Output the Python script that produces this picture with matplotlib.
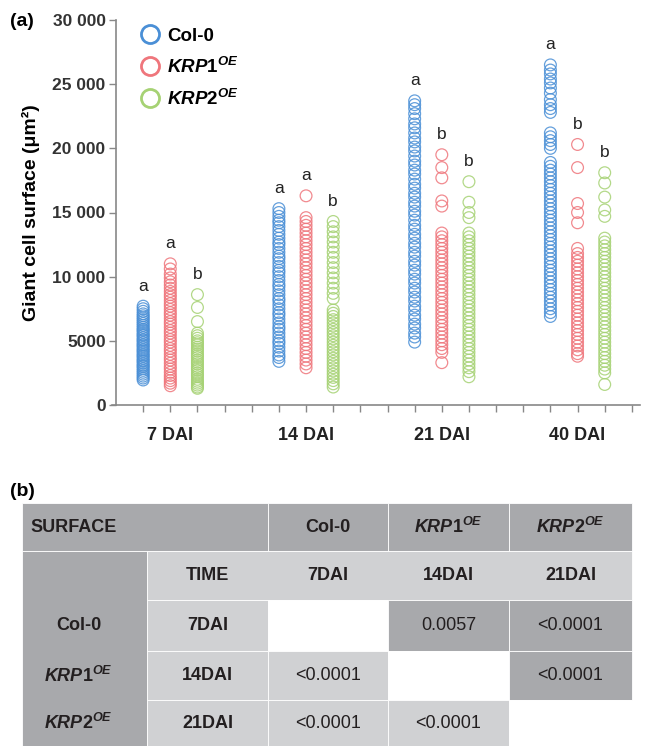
import matplotlib.pyplot as plt
from matplotlib.lines import Line2D
from matplotlib.patches import Rectangle

plt.rcParams['font.family'] = ['Liberation Sans', 'DejaVu Sans']
plt.rcParams['mathtext.fontset'] = 'custom'
plt.rcParams['mathtext.it'] = 'Liberation Sans:bold:italic'
plt.rcParams['mathtext.rm'] = 'Liberation Sans:bold'
plt.rcParams['mathtext.bf'] = 'Liberation Sans:bold'

# (a) giant cell surfaces
days = ['7 DAI', '14 DAI', '21 DAI', '40 DAI']
genotypes = ['Col-0', r'$\mathit{KRP1}^{\mathit{OE}}$', r'$\mathit{KRP2}^{\mathit{OE}}$']
colors = ['#4a8fd6', '#ef767c', '#a6d274']

col0 = [
    [7700, 7500, 7300, 7100, 6950, 6800, 6650, 6500, 6350, 6200, 6050, 5900, 5800, 5650, 5500, 5400,
     5250, 5100, 5000, 4850, 4700, 4600, 4450, 4300, 4200, 4050, 3900, 3800, 3650, 3500, 3400, 3250,
     3100, 3000, 2850, 2700, 2550, 2400, 2250, 2100, 1950],
    [15300, 15000, 14700, 14400, 14200, 13900, 13600, 13300, 13000, 12700, 12500, 12200, 11900, 11600,
     11400, 11100, 10800, 10500, 10300, 10000, 9700, 9400, 9200, 8900, 8600, 8300, 8100, 7800, 7500,
     7200, 7000, 6700, 6400, 6100, 5900, 5600, 5300, 5000, 4800, 4500, 4200, 3900, 3700, 3400],
    [23700, 23400, 23100, 22700, 22300, 21900, 21600, 21200, 20800, 20500, 20100, 19800, 19400, 19000,
     18700, 18300, 18000, 17600, 17200, 16900, 16500, 16200, 15800, 15500, 15100, 14800, 14400, 14000,
     13700, 13300, 13000, 12600, 12300, 11900, 11600, 11200, 10900, 10500, 10200, 9800, 9500, 9100,
     8800, 8400, 8100, 7700, 7400, 7000, 6700, 6300, 6000, 5600, 5300, 4900],
    [26500, 26100, 25800, 25400, 25100, 24700, 24300, 23800, 23400, 23100, 22800, 21200, 20900, 20600,
     20300, 20000, 18900, 18600, 18300, 18000, 17700, 17400, 17100, 16800, 16500, 16200, 15900, 15600,
     15300, 15000, 14700, 14400, 14100, 13800, 13500, 13200, 12900, 12600, 12300, 12000, 11700, 11400,
     11100, 10800, 10500, 10200, 9900, 9600, 9300, 9000, 8700, 8400, 8100, 7800, 7500, 7200, 6900],
]
krp1 = [
    [11000, 10600, 10200, 9900, 9600, 9350, 9100, 8850, 8600, 8400, 8150, 7900, 7700, 7450, 7200, 7000,
     6750, 6500, 6300, 6050, 5800, 5600, 5350, 5100, 4900, 4650, 4400, 4200, 3950, 3700, 3500, 3250,
     3000, 2800, 2550, 2300, 2100, 1900, 1700, 1500],
    [16300, 14600, 14300, 14000, 13700, 13400, 13100, 12800, 12500, 12200, 11900, 11600, 11300, 11000,
     10700, 10400, 10100, 9800, 9500, 9200, 8900, 8600, 8300, 8000, 7700, 7400, 7100, 6800, 6500, 6200,
     5900, 5600, 5300, 5000, 4700, 4400, 4100, 3800, 3500, 3200, 2900],
    [19500, 18500, 17700, 15900, 15500, 13400, 13100, 12800, 12500, 12200, 11900, 11600, 11300, 11000,
     10700, 10400, 10100, 9800, 9500, 9200, 8900, 8600, 8300, 8000, 7700, 7400, 7100, 6800, 6500, 6200,
     5900, 5600, 5300, 5000, 4700, 4400, 4100, 3300],
    [20300, 18500, 15700, 15000, 14200, 12200, 11800, 11500, 11200, 10900, 10600, 10300, 10000, 9700,
     9400, 9100, 8800, 8500, 8200, 7900, 7600, 7300, 7000, 6700, 6400, 6100, 5800, 5500, 5200, 4900,
     4600, 4300, 4000, 3800],
]
krp2 = [
    [8600, 7600, 6500, 5600, 5400, 5200, 5000, 4850, 4700, 4500, 4350, 4200, 4000, 3850, 3700, 3500,
     3350, 3200, 3000, 2850, 2700, 2500, 2350, 2200, 2000, 1850, 1700, 1550, 1400, 1300],
    [14300, 13900, 13500, 13100, 12700, 12300, 11900, 11500, 11100, 10700, 10300, 9900, 9500, 9100,
     8700, 8300, 7400, 7150, 6900, 6650, 6400, 6150, 5900, 5650, 5400, 5150, 4900, 4650, 4400, 4150,
     3900, 3650, 3400, 3150, 2900, 2650, 2400, 2150, 1900, 1650, 1400],
    [17400, 15800, 15000, 14600, 13400, 13100, 12800, 12500, 12200, 11900, 11600, 11300, 11000, 10700,
     10400, 10100, 9800, 9500, 9200, 8900, 8600, 8300, 8000, 7700, 7400, 7100, 6800, 6500, 6200, 5900,
     5600, 5300, 5000, 4700, 4400, 4100, 3800, 3500, 3200, 2900, 2600, 2200],
    [18100, 17300, 16200, 15200, 14700, 13000, 12700, 12400, 12100, 11800, 11500, 11200, 10900, 10600,
     10300, 10000, 9700, 9400, 9100, 8800, 8500, 8200, 7900, 7600, 7300, 7000, 6700, 6400, 6100, 5800,
     5500, 5200, 4900, 4600, 4300, 4000, 3700, 3400, 3100, 2800, 2500, 1600],
]
letters = [['a', 'a', 'b'], ['a', 'a', 'b'], ['a', 'b', 'b'], ['a', 'b', 'b']]

# (b) p-values table
table_cols = ['Col-0', r'$\mathit{KRP1}^{\mathit{OE}}$', r'$\mathit{KRP2}^{\mathit{OE}}$']
table_times = ['7DAI', '14DAI', '21DAI']
pvalues = [
    [None, '0.0057', '<0.0001'],
    ['<0.0001', None, '<0.0001'],
    ['<0.0001', '<0.0001', None],
]

W, H = 657, 746
fig = plt.figure(figsize=(W / 100, H / 100), dpi=100)
ax = fig.add_axes([116 / W, 1 - 405 / H, (640 - 116) / W, (405 - 20) / H])

for g, series in enumerate([col0, krp1, krp2]):
    for d in range(len(days)):
        x = 5 * d + g
        vals = series[d]
        ax.scatter([x] * len(vals), vals, s=72, facecolors='none', edgecolors=colors[g],
                   linewidths=0.9, alpha=0.85, zorder=3)
        ax.annotate(letters[d][g], (x, max(vals)), xytext=(0, 9), textcoords='offset points',
                    ha='center', va='bottom', fontsize=12.5, color='#222222')

ax.set_xlim(-1, 18.3)
ax.set_ylim(0, 30000)
ax.set_yticks(range(0, 30001, 5000))
ax.set_yticklabels(['0', '5000', '10 000', '15 000', '20 000', '25 000', '30 000'])
ax.set_xticks([5 * d + 1 for d in range(len(days))])
ax.set_xticklabels(days)
ax.set_xticks(range(0, 19), minor=True)
ax.tick_params(axis='y', direction='out', length=5, width=1, color='#888888', pad=2.5,
               labelsize=12.5, labelcolor='#333333')
ax.tick_params(axis='x', which='both', direction='out', length=5, width=1, color='#888888')
ax.tick_params(axis='x', which='major', pad=11, labelsize=13, labelcolor='#222222')
for lab in ax.get_yticklabels() + ax.get_xticklabels():
    lab.set_fontweight('bold')
for side in ['top', 'right']:
    ax.spines[side].set_visible(False)
for side in ['left', 'bottom']:
    ax.spines[side].set_color('#888888')
    ax.spines[side].set_linewidth(1.2)
ax.spines['bottom'].set_bounds(-1.15, 18.3)
ax.spines['left'].set_bounds(0, 30000)
ax.set_ylabel('Giant cell surface (μm²)', fontsize=14, fontweight='bold', labelpad=9)

handles = [Line2D([], [], marker='o', ls='', mfc='none', mec=c, mew=2, ms=13) for c in colors]
ax.legend(handles, genotypes, loc='upper left', bbox_to_anchor=(0.029, 1.0), frameon=False,
          prop={'weight': 'bold', 'size': 13.5}, handlelength=1.2, handletextpad=0.3,
          labelspacing=0.64, borderaxespad=0)

fig.text(10 / W, 1 - 22 / H, '(a)', fontsize=14, fontweight='bold', va='center')
fig.text(10 / W, 1 - 491 / H, '(b)', fontsize=14, fontweight='bold', va='center')

# table drawn in pixel coordinates
tx = fig.add_axes([0, 0, 1, (H - 500) / H])
tx.set_xlim(0, W)
tx.set_ylim(H, 500)
tx.axis('off')

dark, light = '#a8a9ac', '#d0d1d3'
xs = [22, 147, 268, 388, 509, 632]
ys = [503, 551, 600, 651, 700, 746]

def cell(c, r, color, c2=None, r2=None):
    c2 = c + 1 if c2 is None else c2
    r2 = r + 1 if r2 is None else r2
    tx.add_patch(Rectangle((xs[c], ys[r]), xs[c2] - xs[c], ys[r2] - ys[r], facecolor=color,
                           edgecolor='white', linewidth=0.6))

cell(0, 0, dark, c2=2)
for j in range(3):
    cell(2 + j, 0, dark)
cell(0, 1, dark, r2=5)
cell(1, 1, light, c2=5)
for i in range(3):
    cell(1, 2 + i, light)
    for j in range(3):
        color = 'white' if i == j else (dark if j > i else light)
        cell(2 + j, 2 + i, color)

def cx(c):
    return (xs[c] + xs[c + 1]) / 2

def cy(r):
    return (ys[r] + ys[r + 1]) / 2

tkw = dict(ha='center', va='center', fontsize=13, color='#231f20')
tx.text(30, cy(0), 'SURFACE', ha='left', va='center', fontsize=13, fontweight='bold', color='#231f20')
tx.text(cx(1), cy(1), 'TIME', fontweight='bold', **tkw)
for j in range(3):
    tx.text(cx(2 + j), cy(0), table_cols[j], fontweight='bold', **tkw)
    tx.text(cx(2 + j), cy(1), table_times[j], fontweight='bold', **tkw)
for i in range(3):
    tx.text(cx(0) - 6, cy(2 + i), table_cols[i], fontweight='bold', **tkw)
    tx.text(cx(1), cy(2 + i), table_times[i], fontweight='bold', **tkw)
    for j in range(3):
        if pvalues[i][j]:
            tx.text(cx(2 + j), cy(2 + i), pvalues[i][j], **tkw)

fig.savefig('out.png', dpi=100)
